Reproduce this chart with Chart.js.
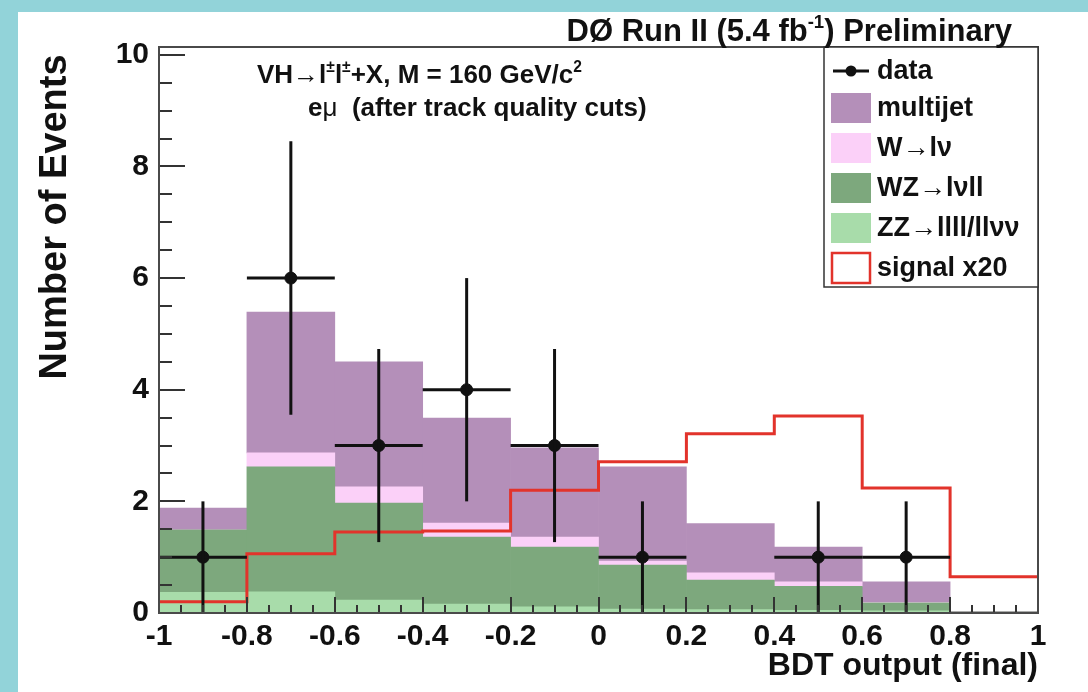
<!DOCTYPE html>
<html>
<head>
<meta charset="utf-8">
<script src="https://cdn.jsdelivr.net/npm/chart.js@4.4.1/dist/chart.umd.min.js"></script>
<style>
html,body{margin:0;padding:0;background:#92d3d9;overflow:hidden;}
canvas{display:block;}
</style>
</head>
<body>
<canvas id="c" width="1088" height="692"></canvas>
<script>
// ---- data ----
const binEdges   = [-1, -0.8, -0.6, -0.4, -0.2, 0, 0.2, 0.4, 0.6, 0.8, 1];
const binCenters = [-0.9, -0.7, -0.5, -0.3, -0.1, 0.1, 0.3, 0.5, 0.7, 0.9];
const zzValues       = [0.37, 0.38, 0.23, 0.16, 0.11, 0.07, 0.06, 0.05, 0.04, 0.01];
const wzValues       = [1.12, 2.24, 1.74, 1.20, 1.07, 0.79, 0.53, 0.43, 0.14, 0.01];
const wlnuValues     = [0.00, 0.25, 0.29, 0.25, 0.18, 0.07, 0.13, 0.08, 0.01, 0.00];
const multijetValues = [0.39, 2.52, 2.24, 1.88, 1.60, 1.69, 0.88, 0.62, 0.37, 0.01];
const signalValues   = [0.20, 1.06, 1.45, 1.47, 2.20, 2.71, 3.21, 3.53, 2.24, 0.65];
const dataValues     = [1, 6, 3, 4, 3, 1, 0, 1, 1, 0];
const dataErrors     = [1, 2.45, 1.73, 2, 1.73, 1, 0, 1, 1, 0];
const xTickValues = [-1, -0.8, -0.6, -0.4, -0.2, 0, 0.2, 0.4, 0.6, 0.8, 1];
const xTickLabels = ['-1', '-0.8', '-0.6', '-0.4', '-0.2', '0', '0.2', '0.4', '0.6', '0.8', '1'];
const yTickValues = [0, 2, 4, 6, 8, 10];
const yTickLabels = ['0', '2', '4', '6', '8', '10'];
const legendLabels = ['data', 'multijet', 'W\u2192l\u03bd', 'WZ\u2192l\u03bdll', 'ZZ\u2192llll/ll\u03bd\u03bd', 'signal x20'];

const COLORS = {
  multijet: '#b48fb9', wlnu: '#fbd0f8', wz: '#7da87d', zz: '#a8dcaa', signal: '#e2332b'
};
const FONT = "'Liberation Sans', Arial, Helvetica, sans-serif";

function barData(vals) { return binCenters.map((x, i) => ({x: x, y: vals[i]})); }
const signalPoints = binEdges.map((x, i) => ({x: x, y: signalValues[Math.min(i, signalValues.length - 1)]}));
const dataPoints = binCenters.map((x, i) => ({x: x, y: dataValues[i]})).filter(p => p.y > 0);

function drawRich(ctx, segs, x, y, align, size) {
  const widths = segs.map(s => {
    ctx.font = (s.w || 'bold') + ' ' + (s.sup ? size * 0.6 : size) + 'px ' + FONT;
    return ctx.measureText(s.t).width;
  });
  const total = widths.reduce((a, b) => a + b, 0);
  let cx = align === 'right' ? x - total : x;
  ctx.textAlign = 'left';
  ctx.textBaseline = 'alphabetic';
  segs.forEach((s, i) => {
    ctx.font = (s.w || 'bold') + ' ' + (s.sup ? size * 0.6 : size) + 'px ' + FONT;
    ctx.fillText(s.t, cx, s.sup ? y - size * 0.42 : y);
    cx += widths[i];
  });
}

const decor = {
  id: 'decor',
  beforeDraw(chart) {
    const ctx = chart.ctx;
    ctx.save();
    ctx.fillStyle = '#92d3d9';
    ctx.fillRect(0, 0, chart.width, chart.height);
    ctx.fillStyle = '#ffffff';
    ctx.fillRect(18, 12, chart.width - 18, chart.height - 12);
    ctx.restore();
  },
  afterDatasetsDraw(chart) {
    const ctx = chart.ctx, xs = chart.scales.x, ys = chart.scales.y, a = chart.chartArea;
    ctx.save();
    ctx.beginPath(); ctx.rect(a.left, a.top, a.right - a.left, a.bottom - a.top); ctx.clip();
    ctx.strokeStyle = '#111'; ctx.lineWidth = 3;
    for (let i = 0; i < dataValues.length; i++) {
      if (dataValues[i] <= 0) continue;
      const cx = xs.getPixelForValue(binCenters[i]);
      const cy = ys.getPixelForValue(dataValues[i]);
      const x0 = xs.getPixelForValue(binEdges[i]);
      const x1 = xs.getPixelForValue(binEdges[i + 1]);
      const yT = ys.getPixelForValue(dataValues[i] + dataErrors[i]);
      const yB = ys.getPixelForValue(Math.max(0, dataValues[i] - dataErrors[i]));
      ctx.beginPath(); ctx.moveTo(x0, cy); ctx.lineTo(x1, cy); ctx.stroke();
      ctx.beginPath(); ctx.moveTo(cx, yT); ctx.lineTo(cx, yB); ctx.stroke();
    }
    ctx.restore();
  },
  afterDraw(chart) {
    const ctx = chart.ctx, xs = chart.scales.x, ys = chart.scales.y, a = chart.chartArea;
    ctx.save();
    // ticks (inward)
    ctx.strokeStyle = '#333'; ctx.lineWidth = 2;
    for (let k = 0; k <= 20; k++) {
      const py = Math.round(ys.getPixelForValue(k * 0.5));
      const len = (k % 4 === 0) ? 26 : 13;
      ctx.beginPath(); ctx.moveTo(a.left, py); ctx.lineTo(a.left + len, py); ctx.stroke();
    }
    for (let k = 0; k <= 40; k++) {
      const px = Math.round(xs.getPixelForValue(-1 + k * 0.05));
      const len = (k % 4 === 0) ? 16 : 8;
      ctx.beginPath(); ctx.moveTo(px, a.bottom); ctx.lineTo(px, a.bottom - len); ctx.stroke();
    }
    // frame
    ctx.strokeStyle = '#4a4a4a'; ctx.lineWidth = 2;
    ctx.strokeRect(a.left, a.top, a.right - a.left, a.bottom - a.top);

    // legend
    const lx0 = 824, ly0 = a.top, lx1 = a.right, ly1 = 287;
    ctx.fillStyle = '#fff';
    ctx.fillRect(lx0, ly0, lx1 - lx0, ly1 - ly0);
    ctx.strokeStyle = '#333'; ctx.lineWidth = 1.5;
    ctx.strokeRect(lx0, ly0, lx1 - lx0, ly1 - ly0);
    const rows = [71, 108, 148, 188, 228, 268];
    const sw = [null, COLORS.multijet, COLORS.wlnu, COLORS.wz, COLORS.zz, null];
    rows.forEach((ry, i) => {
      if (i === 0) {
        ctx.strokeStyle = '#111'; ctx.lineWidth = 3;
        ctx.beginPath(); ctx.moveTo(833, ry); ctx.lineTo(869, ry); ctx.stroke();
        ctx.fillStyle = '#111';
        ctx.beginPath(); ctx.arc(851, ry, 5.5, 0, Math.PI * 2); ctx.fill();
      } else if (i === 5) {
        ctx.fillStyle = '#fff'; ctx.fillRect(832, ry - 15, 38, 30);
        ctx.strokeStyle = COLORS.signal; ctx.lineWidth = 2.5;
        ctx.strokeRect(832, ry - 15, 38, 30);
      } else {
        ctx.fillStyle = sw[i]; ctx.fillRect(831, ry - 15, 40, 30);
      }
      ctx.fillStyle = '#111';
      ctx.font = 'bold 27px ' + FONT;
      ctx.textAlign = 'left'; ctx.textBaseline = 'middle';
      ctx.fillText(legendLabels[i], 877, ry + 1);
    });

    // title & annotations
    ctx.fillStyle = '#111';
    drawRich(ctx, [{t: 'D\u00d8 Run II (5.4 fb'}, {t: '-1', sup: true}, {t: ') Preliminary'}], 1012, 41, 'right', 31);
    drawRich(ctx, [{t: 'VH'}, {t: '\u2192', w: 'normal'}, {t: 'l'}, {t: '\u00b1', sup: true}, {t: 'l'}, {t: '\u00b1', sup: true},
                   {t: '+X, M = 160 GeV/c'}, {t: '2', sup: true}], 257, 83, 'left', 26);
    drawRich(ctx, [{t: 'e'}, {t: '\u03bc', w: 'normal'}, {t: '  (after track quality cuts)'}], 308, 116, 'left', 26);

    // y-axis title
    ctx.save();
    ctx.translate(56, 217);
    ctx.rotate(-Math.PI / 2);
    ctx.font = 'bold 38px ' + FONT;
    ctx.textAlign = 'center'; ctx.textBaseline = 'middle';
    ctx.fillStyle = '#111';
    ctx.fillText('Number of Events', 0, 0);
    ctx.restore();
    ctx.restore();
  }
};

new Chart(document.getElementById('c'), {
  type: 'bar',
  data: {
    datasets: [
      {label: 'ZZ', data: barData(zzValues), backgroundColor: COLORS.zz, stack: 'bkg', order: 2},
      {label: 'WZ', data: barData(wzValues), backgroundColor: COLORS.wz, stack: 'bkg', order: 2},
      {label: 'W', data: barData(wlnuValues), backgroundColor: COLORS.wlnu, stack: 'bkg', order: 2},
      {label: 'multijet', data: barData(multijetValues), backgroundColor: COLORS.multijet, stack: 'bkg', order: 2},
      {type: 'line', label: 'signal x20', data: signalPoints, stepped: 'before', borderColor: COLORS.signal,
       borderWidth: 3, pointRadius: 0, fill: false, stack: 'sig', order: 1},
      {type: 'scatter', label: 'data', data: dataPoints, pointRadius: 6, pointBackgroundColor: '#111',
       pointBorderColor: '#111', stack: 'data', order: 0}
    ]
  },
  options: {
    responsive: false,
    animation: false,
    devicePixelRatio: 1,
    layout: {padding: {left: 20, top: 47, right: 50, bottom: 0}},
    datasets: {bar: {barPercentage: 1, categoryPercentage: 1, borderWidth: 0}},
    plugins: {legend: {display: false}, tooltip: {enabled: false}},
    scales: {
      x: {
        type: 'linear', min: -1, max: 1, offset: false, stacked: true,
        grid: {display: false, drawTicks: false}, border: {display: false},
        afterBuildTicks: s => { s.ticks = xTickValues.map(v => ({value: v})); },
        afterFit: s => { s.height = 79; },
        ticks: {autoSkip: false, maxRotation: 0, padding: 6, color: '#111',
                font: {family: FONT, size: 30, weight: 'bold'},
                callback: (v, i) => xTickLabels[i]},
        title: {display: true, text: 'BDT output (final)', align: 'end', color: '#111',
                font: {family: FONT, size: 32, weight: 'bold'}, padding: {top: 0, bottom: 7}}
      },
      y: {
        type: 'linear', min: 0, max: 10.14, stacked: true,
        grid: {display: false, drawTicks: false}, border: {display: false},
        afterBuildTicks: s => { s.ticks = yTickValues.map(v => ({value: v})); },
        afterFit: s => { s.width = 139; },
        ticks: {autoSkip: false, padding: 10, color: '#111',
                font: {family: FONT, size: 30, weight: 'bold'},
                callback: (v, i) => yTickLabels[i]},
        title: {display: false}
      }
    }
  },
  plugins: [decor]
});
</script>
</body>
</html>
